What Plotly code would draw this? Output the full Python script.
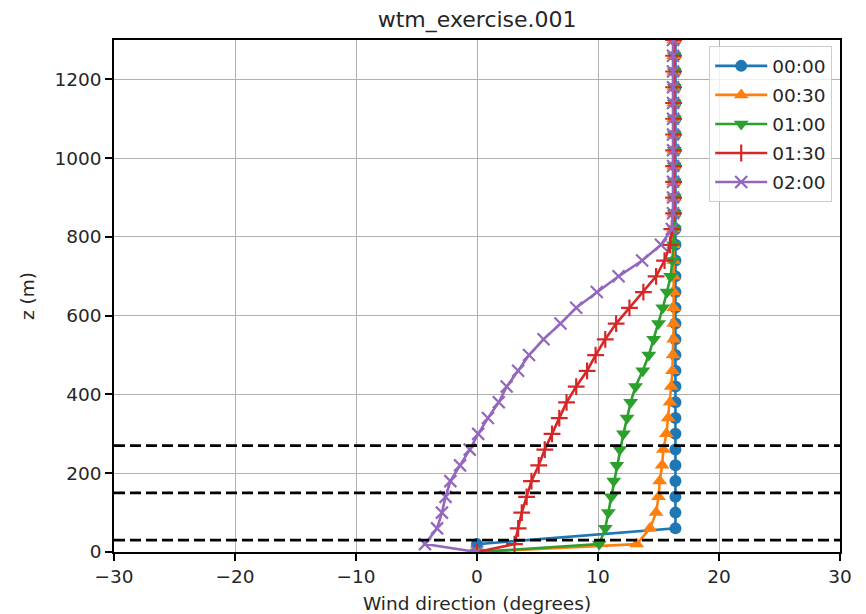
import plotly.graph_objects as go

# Heights of the profile levels (m): surface, first cell centre, then every 40 m
z = [0, 20] + [60 + 40 * k for k in range(32)]

# Wind direction (degrees) at each level, one profile per output time
dir_0000 = [0, 0] + [16.4] * 32
dir_0030 = [0, 13.2, 14.3, 14.8, 15.0, 15.1, 15.3, 15.4, 15.65, 15.8, 15.95,
            16.05, 16.15, 16.2] + [16.25] * 20
dir_0100 = [0, 10.1, 10.6, 10.85, 11.1, 11.3, 11.55, 11.8, 12.1, 12.4, 12.7,
            13.1, 13.7, 14.2, 14.6, 15.0, 15.35, 15.7, 16.0, 16.15, 16.25] + [16.3] * 13
dir_0130 = [0, 3.1, 3.4, 3.7, 4.1, 4.5, 5.1, 5.6, 6.2, 6.8, 7.4, 8.2, 9.1,
            9.8, 10.6, 11.5, 12.6, 13.75, 14.8, 15.5, 15.95, 16.1] + [16.25] * 12
dir_0200 = [0, -4.3, -3.3, -2.9, -2.6, -2.2, -1.4, -0.6, 0.1, 0.9, 1.8, 2.45,
            3.4, 4.3, 5.5, 6.9, 8.2, 9.9, 11.7, 13.65, 15.2, 16.1] + [16.2] * 12

times = ["00:00", "00:30", "01:00", "01:30", "02:00"]
profiles = [dir_0000, dir_0030, dir_0100, dir_0130, dir_0200]
colors = ["#1f77b4", "#ff7f0e", "#2ca02c", "#d62728", "#9467bd"]
symbols = ["circle", "triangle-up", "triangle-down", "cross-thin", "x-thin"]
marker_sizes = [12, 13, 13, 12, 12]

# Rotor bottom, hub and rotor top heights (m)
rotor_levels = [30, 150, 270]

font_family = "DejaVu Sans"
fs = 18.5

fig = go.Figure()
for name, vals, col, sym, ms in zip(times, profiles, colors, symbols, marker_sizes):
    thin = sym.endswith("thin")
    fig.add_trace(go.Scatter(
        x=vals, y=z, name=name, mode="lines+markers",
        legendgroup=name,
        line=dict(color=col, width=2.6),
        marker=dict(symbol=sym, size=ms, color=col,
                    line=dict(color=col, width=2.2 if thin else 0)),
    ))

for h in rotor_levels:
    fig.add_shape(type="line", xref="paper", x0=0, x1=1, yref="y", y0=h, y1=h,
                  line=dict(color="black", width=2.8, dash="11px,5px"),
                  layer="above")

axis_common = dict(
    showline=True, linecolor="black", linewidth=1.5, mirror=True,
    ticks="outside", ticklen=7, tickwidth=1.5, tickcolor="black",
    showgrid=True, gridcolor="#b0b0b0", gridwidth=1.3,
    zeroline=False, automargin=False,
    tickfont=dict(family=font_family, size=fs, color="#262626"),
)

fig.update_layout(
    width=866, height=614,
    margin=dict(l=114, r=26, t=40, b=62),
    paper_bgcolor="white", plot_bgcolor="white",
    font=dict(family=font_family, size=fs, color="#262626"),
    title=dict(text="wtm_exercise.001", x=0.551, xanchor="center",
               y=1 - 19 / 614, yref="container", yanchor="middle",
               font=dict(family=font_family, size=22, color="#262626")),
    xaxis=dict(range=[-30, 30], tickvals=[-30, -20, -10, 0, 10, 20, 30],
               title=dict(text="Wind direction (degrees)",
                          font=dict(family=font_family, size=fs)),
               **axis_common),
    yaxis=dict(range=[0, 1300], tickvals=[0, 200, 400, 600, 800, 1000, 1200],
               title=dict(text="z (m)",
                          font=dict(family=font_family, size=fs)),
               **axis_common),
    legend=dict(x=0.989, xanchor="right", y=0.988, yanchor="top",
                bgcolor="rgba(255,255,255,0.8)", bordercolor="#cccccc",
                borderwidth=1.2, tracegroupgap=2, itemwidth=52,
                font=dict(family=font_family, size=fs, color="#262626")),
)

fig.write_html("out.html")
